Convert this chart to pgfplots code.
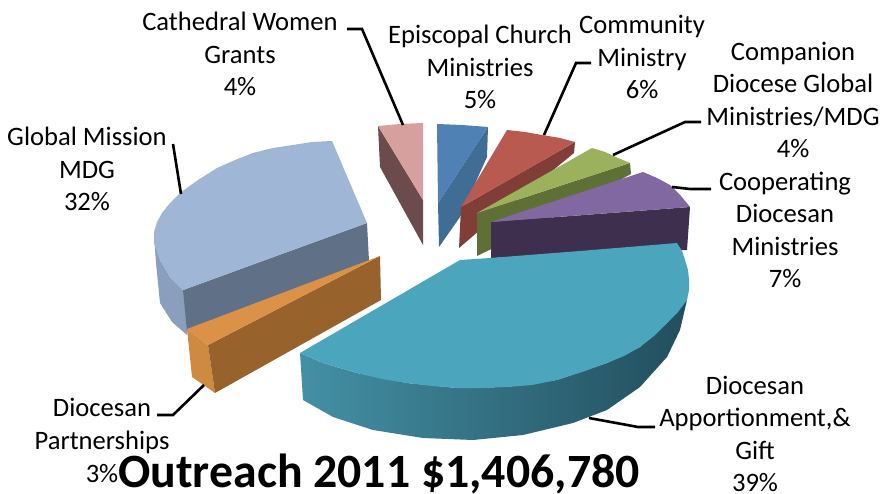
\documentclass[border=0pt]{standalone}
\usepackage{pgfplots}
\pgfplotsset{compat=1.18}
\usepackage{fontspec}
\setmainfont{Carlito}

\definecolor{gmtop}{HTML}{A0B6D6}
\definecolor{gmin}{HTML}{5F7087}
\definecolor{gmout}{HTML}{8A9FBE}
\definecolor{ortop}{HTML}{DB9247}
\definecolor{orright}{HTML}{98622D}
\definecolor{orleft}{HTML}{CE8A40}
\definecolor{pktop}{HTML}{D6A09E}
\definecolor{pkside}{HTML}{6B4B4B}
\definecolor{bltop}{HTML}{4F81B5}
\definecolor{blside}{HTML}{3F6D93}
\definecolor{rdtop}{HTML}{B85A4F}
\definecolor{rdside}{HTML}{813D37}
\definecolor{grtop}{HTML}{9BB15B}
\definecolor{grside}{HTML}{5F7037}
\definecolor{putop}{HTML}{8268A0}
\definecolor{puside}{HTML}{3D2F4D}
\definecolor{tltop}{HTML}{4BA5BC}
\definecolor{tla}{HTML}{4490A5}
\definecolor{tlb}{HTML}{2B6272}
\definecolor{tlc}{HTML}{224E5D}

\tikzset{
	lbl/.style={overlay, align=center, inner sep=0pt, font=\fontsize{26.6}{32.2}\selectfont},
	slice/.style={draw=none, mark=none},
	leader/.style={draw=black, line width=2.6pt, mark=none},
}

\begin{document}
\begin{tikzpicture}
\path[use as bounding box] (0,0) rectangle (882pt,494pt);
\begin{axis}[
	scale only axis, width=882pt, height=494pt,
	xmin=0, xmax=882, ymin=0, ymax=494, y dir=reverse,
	hide axis, clip=false,
]
	% global mission
	\addplot[slice, fill=gmout] coordinates {(154,235)(156,263)(160,303)(172,322)(187,335)(190,300)(183,290)(170,277)(160,260)};
	\addplot[slice, fill=gmin] coordinates {(183,290)(367,223)(369,261)(187,331)};
	\addplot[slice, fill=gmtop] coordinates {(183,290)(367,223)(332,141)(312,142)(293,145)(273,148)(253,153)(235,160)(217,168)(198,180)(180,193)(170,203)(162,213)(157,222)(154,232)(154,243)(160,260)(170,277)};
	% partnerships
	\addplot[slice, fill=orleft] coordinates {(187,329)(208,345)(215,393)(192,377)};
	\addplot[slice, fill=orright] coordinates {(208,345)(380,256)(381,300)(215,393)};
	\addplot[slice, fill=ortop] coordinates {(187,329)(380,256)(208,345)};
	% cathedral women
	\addplot[slice, fill=pkside] coordinates {(378,126)(423,200)(423,245)(380,167)};
	\addplot[slice, fill=pktop] coordinates {(378,126)(400,124)(423,123)(423,200)};
	% episcopal
	\addplot[slice, fill=blside] coordinates {(488,127)(487,157)(460,217)(439,247)(438,203)};
	\addplot[slice, fill=bltop] coordinates {(437,124)(462,125)(488,127)(438,203)};
	% community
	\addplot[slice, fill=rdside] coordinates {(461,207)(575,142)(574,153)(480,230)(459,248)};
	\addplot[slice, fill=rdtop] coordinates {(461,207)(507,130)(525,132)(542,135)(560,138)(575,142)};
	% companion
	\addplot[slice, fill=grside] coordinates {(477,213)(630,163)(631,174)(510,240)(477,256)};
	\addplot[slice, fill=grtop] coordinates {(477,213)(592,148)(605,152)(618,158)(630,163)};
	% cooperating
	\addplot[slice, fill=puside] coordinates {(491,222)(690,207)(687,250)(491,258)};
	\addplot[slice, fill=putop] coordinates {(491,222)(643,172)(657,178)(670,185)(681,196)(690,207)};
	% apportionment
	\addplot[slice, left color=tla, middle color=tlb, right color=tlc]
		coordinates {(300,353)(303,400)(333,417)(373,430)(423,438)(473,440)(523,435)(573,423)(607,410)(640,387)(667,357)(680,330)(687,300)(667,323)(640,347)(607,363)(557,380)(507,387)(457,388)(407,383)(357,373)(323,363)};
	\addplot[slice, fill=tltop] coordinates {(300,353)(460,260)(490,258)(580,251)(677,243)(682,251)(685,260)(688,270)(689,280)(689,290)(687,300)(678,312)(667,323)(654,336)(640,347)(624,356)(607,363)(582,372)(557,380)(532,385)(507,387)(482,388)(457,388)(432,386)(407,383)(382,379)(357,373)(340,368)(323,363)};
	% leader lines
	\addplot[leader] coordinates {(347,29)(362,29)(403,125)};
	\addplot[leader] coordinates {(591,63)(576,63)(544,135)};
	\addplot[leader] coordinates {(701,122)(685,122)(613,155)};
	\addplot[leader] coordinates {(711,189)(690,189)(672,187)};
	\addplot[leader] coordinates {(173,144)(181,194)};
	\addplot[leader] coordinates {(157,415)(173,415)(204,385)};
	\addplot[leader] coordinates {(655,427)(638,427)(589,418)};
	% labels
	\node[lbl] at (axis cs:240,54) {Cathedral Women\\Grants\\4\%};
	\node[lbl] at (axis cs:480,67) {Episcopal Church\\Ministries\\5\%};
	\node[lbl] at (axis cs:642,57) {Community\\Ministry\\6\%};
	\node[lbl] at (axis cs:793,100) {Companion\\Diocese Global\\Ministries/MDG\\4\%};
	\node[lbl] at (axis cs:785,230) {Cooperating\\Diocesan\\Ministries\\7\%};
	\node[lbl] at (axis cs:87,169) {Global Mission\\MDG\\32\%};
	\node[lbl] at (axis cs:102,426) {Diocesan\\Partnerships};
	\node[lbl] at (axis cs:102,474) {3\%};
	\node[lbl] at (axis cs:755,434) {Diocesan\\Apportionment,\&\\Gift\\39\%};
	\node[overlay, inner sep=0pt, anchor=base, font=\fontsize{47.8}{50}\selectfont\bfseries] at (axis cs:379,487) {Outreach 2011 \$1,406,780};
\end{axis}
\end{tikzpicture}
\end{document}
